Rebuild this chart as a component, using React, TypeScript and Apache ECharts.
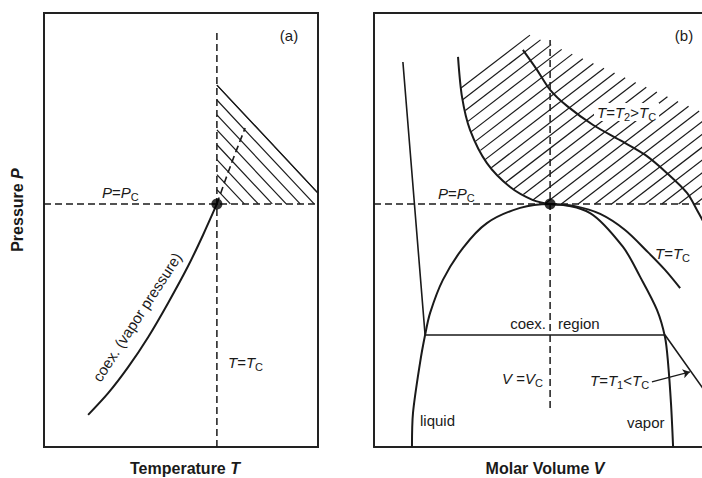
import React, { useEffect, useRef } from "react";
import * as echarts from "echarts";

// ---------- Panel (a): temperature T vs pressure P (arbitrary units 0..100) ----------
const criticalA = [63.1, 56.0];
const coexCurveA = [
  [16.1, 7.4], [23.4, 12.4], [30.7, 18.4], [38.0, 25.3], [45.3, 33.2],
  [52.6, 41.7], [58.0, 48.8], [63.1, 56.0],
];
const coexExtensionA = [[63.1, 56.0], [68.2, 65.0], [73.4, 73.5]];
const isothermTcA = [[63.1, 0], [63.1, 95.4]];
const isobarPcA = [[0, 56.0], [100, 56.0]];
const hatchPolygonA = [[63.1, 83.4], [63.1, 56.0], [100, 56.0], [100, 58.5]];
const hatchEdgeA = [[63.1, 83.4], [100, 58.5]];

// ---------- Panel (b): molar volume V vs pressure P ----------
const volumeRangeB = [0, 97.6]; // visible part of the volume axis
const criticalB = [52.4, 56.0];
const domeB = [
  [11.3, 0], [11.6, 7.8], [13.7, 19.4], [15.2, 25.8], [16.7, 30.9], [20.5, 38.5],
  [26.5, 45.9], [33.6, 51.6], [43.5, 55.1], [52.4, 56.0], [64.3, 53.9], [74.1, 46.1],
  [79.2, 39.2], [84.2, 31.6], [86.6, 25.3], [87.5, 19.4], [88.4, 9.7], [89.0, 0],
];
const isothermTcB = [
  [25.0, 89.9], [26.2, 80.6], [28.6, 73.0], [33.6, 65.4], [40.5, 59.9], [47.3, 56.9],
  [52.4, 56.0], [59.8, 55.5], [67.3, 53.7], [74.7, 50.0], [81.5, 44.9], [86.6, 40.8], [91.1, 36.6],
];
const isothermT2B = [
  [44.3, 91.5], [48.5, 86.9], [52.4, 82.3], [57.4, 78.6], [65.2, 74.2], [73.2, 70.7],
  [80.7, 67.3], [87.2, 63.1], [93.2, 58.5], [96.1, 54.6], [98.5, 51.2],
];
const isothermT1B = [[8.6, 88.7], [15.2, 25.8], [86.6, 25.8], [97.6, 13.8], [100, 11.5]];
const isochoreVcB = [[52.4, 9.0], [52.4, 93.8]];
const isobarPcB = [[0, 56.0], [100, 56.0]];
const hatchPolygonB = [
  [25.9, 82.7], [26.2, 80.6], [28.6, 73.0], [33.6, 65.4], [40.5, 59.9], [47.3, 56.9],
  [52.4, 56.0], [100, 56.0], [100, 76.3], [46.4, 94.9],
];
const arrowB = [[82.7, 15.0], [94.0, 17.3]];

// ---------- styling ----------
const INK = "#1a1a1a";
const FONT = "'Liberation Sans', Arial, Helvetica, sans-serif";

function hatchRenderer(polygon: number[][], dir: number[], spacing: number) {
  return (_params: any, api: any) => {
    const pts = polygon.map((p) => api.coord(p));
    const len = Math.hypot(dir[0], dir[1]);
    const d = [dir[0] / len, dir[1] / len];
    const n = [-d[1], d[0]];
    const proj = pts.map((p: number[]) => n[0] * p[0] + n[1] * p[1]);
    const c0 = proj[0];
    const cmin = Math.min(...proj);
    const cmax = Math.max(...proj);
    const eps = 1e-6;
    const kStart = Math.ceil((cmin - c0) / spacing - 1e-6);
    const kEnd = Math.floor((cmax - c0) / spacing + 1e-6);
    const children: any[] = [];
    for (let k = kStart; k <= kEnd; k++) {
      const c = c0 + k * spacing;
      let tMin = Infinity;
      let tMax = -Infinity;
      let pMin: number[] | null = null;
      let pMax: number[] | null = null;
      for (let i = 0; i < pts.length; i++) {
        const j = (i + 1) % pts.length;
        const a = proj[i] - c;
        const b = proj[j] - c;
        if (Math.abs(a - b) < 1e-9) continue;
        if ((a <= eps && b >= -eps) || (a >= -eps && b <= eps)) {
          let t = a / (a - b);
          t = Math.max(0, Math.min(1, t));
          const p = [pts[i][0] + t * (pts[j][0] - pts[i][0]), pts[i][1] + t * (pts[j][1] - pts[i][1])];
          const s = d[0] * p[0] + d[1] * p[1];
          if (s < tMin) { tMin = s; pMin = p; }
          if (s > tMax) { tMax = s; pMax = p; }
        }
      }
      if (pMin && pMax && tMax - tMin > 0.5) {
        children.push({
          type: "line",
          shape: { x1: pMin[0], y1: pMin[1], x2: pMax[0], y2: pMax[1] },
          style: { stroke: INK, lineWidth: 1.2 },
        });
      }
    }
    return { type: "group", children };
  };
}

const baseTok = { fontFamily: FONT, fontSize: 15, fill: INK, color: INK };
const rich = {
  i: { ...baseTok, fontStyle: "italic", lineHeight: 16 },
  n: { ...baseTok, lineHeight: 16 },
  s: { ...baseTok, fontSize: 11, lineHeight: 11, padding: [9, 0, 0, 0] },
  b: { ...baseTok, fontSize: 16, fontWeight: "bold", lineHeight: 18 },
  bi: { ...baseTok, fontSize: 16, fontWeight: "bold", fontStyle: "italic", lineHeight: 18 },
};

function label(text: string, x: number, y: number, align: string, extra: any = {}, rotation = 0) {
  return {
    type: "text",
    x,
    y,
    rotation,
    z: 100,
    silent: true,
    style: {
      text,
      x: 0,
      y: 0,
      rich,
      fill: INK,
      font: `15px ${FONT}`,
      align,
      verticalAlign: "middle",
      textAlign: align,
      textVerticalAlign: "middle",
      ...extra,
    },
  };
}

function lineSeries(data: number[][], idx: number, opts: any = {}) {
  return {
    type: "line",
    xAxisIndex: idx,
    yAxisIndex: idx,
    data,
    showSymbol: false,
    symbol: "none",
    silent: true,
    clip: false,
    smooth: opts.smooth ?? 0,
    lineStyle: { color: INK, width: opts.width ?? 1.8, type: opts.type ?? "solid" },
    z: opts.z ?? 3,
  };
}

const dash = [7, 4];
const frameAxis = {
  show: true,
  axisLine: { show: true, onZero: false, lineStyle: { color: "#222", width: 2 } },
  axisTick: { show: false },
  axisLabel: { show: false },
  splitLine: { show: false },
};

const option: any = {
  animation: false,
  backgroundColor: "#fff",
  textStyle: { fontFamily: FONT },
  grid: [
    { left: 44, top: 13, width: 274, height: 434, show: true, borderColor: "#222", borderWidth: 2, backgroundColor: "transparent" },
    { left: 374, top: 13, width: 328, height: 434, show: false },
  ],
  xAxis: [
    { gridIndex: 0, type: "value", min: 0, max: 100, show: false },
    { gridIndex: 1, type: "value", min: volumeRangeB[0], max: volumeRangeB[1], position: "bottom", ...frameAxis },
    { gridIndex: 1, type: "value", min: volumeRangeB[0], max: volumeRangeB[1], position: "top", ...frameAxis },
  ],
  yAxis: [
    { gridIndex: 0, type: "value", min: 0, max: 100, show: false },
    { gridIndex: 1, type: "value", min: 0, max: 100, position: "left", ...frameAxis },
  ],
  series: [
    // panel (a)
    {
      type: "custom", xAxisIndex: 0, yAxisIndex: 0, data: [[0, 0]], silent: true, z: 1, clip: false,
      renderItem: hatchRenderer(hatchPolygonA, [101, 108], 10.2),
    },
    lineSeries(hatchEdgeA, 0, { width: 1.2 }),
    lineSeries(isothermTcA, 0, { width: 1.5, type: dash }),
    lineSeries(isobarPcA, 0, { width: 1.5, type: dash }),
    lineSeries(coexExtensionA, 0, { width: 1.6, type: dash, smooth: 0.3 }),
    lineSeries(coexCurveA, 0, { width: 2, smooth: 0.3 }),
    {
      type: "scatter", xAxisIndex: 0, yAxisIndex: 0, data: [criticalA], symbolSize: 11,
      itemStyle: { color: "#000" }, silent: true, z: 5,
    },
    // panel (b)
    {
      type: "custom", xAxisIndex: 1, yAxisIndex: 1, data: [[0, 0]], silent: true, z: 1, clip: false,
      renderItem: hatchRenderer(hatchPolygonB, [69, -53], 10.2),
    },
    lineSeries(isochoreVcB, 1, { width: 1.5, type: dash }),
    lineSeries(isobarPcB, 1, { width: 1.5, type: dash }),
    lineSeries(domeB, 1, { width: 2, smooth: 0.3 }),
    lineSeries(isothermTcB, 1, { width: 2, smooth: 0.3 }),
    lineSeries(isothermT2B, 1, { width: 2, smooth: 0.3 }),
    lineSeries(isothermT1B, 1, { width: 1.6 }),
    {
      type: "lines", coordinateSystem: "cartesian2d", xAxisIndex: 1, yAxisIndex: 1,
      data: [{ coords: arrowB }], symbol: ["none", "arrow"], symbolSize: 7, silent: true,
      lineStyle: { color: INK, width: 1.2, curveness: 0, opacity: 1 }, z: 4,
    },
    {
      type: "scatter", xAxisIndex: 1, yAxisIndex: 1, data: [criticalB], symbolSize: 11,
      itemStyle: { color: "#000" }, silent: true, z: 5,
    },
  ],
  graphic: [
    // panel (a) labels
    label("(a)", 289, 35, "center"),
    label("{i|P}{n|=}{i|P}{s|C}", 102, 192, "left"),
    label("{i|T}{n|=}{i|T}{s|C}", 228, 362, "left"),
    label("coex. (vapor pressure)", 137, 317, "center", {}, (57 * Math.PI) / 180),
    label("{b|Pressure }{bi|P}", 17, 210, "center", {}, Math.PI / 2),
    label("{b|Temperature }{bi|T}", 185, 468, "center"),
    // panel (b) labels
    label("(b)", 684, 35, "center"),
    label("{i|P}{n|=}{i|P}{s|C}", 438, 193, "left"),
    label("{i|T}{n|=}{i|T}{s|2}{n|>}{i|T}{s|C}", 594, 112, "left", { backgroundColor: "#fff", padding: [1, 3, 1, 3] }),
    label("{i|T}{n|=}{i|T}{s|C}", 655, 253, "left"),
    label("coex.", 546, 323, "right"),
    label("region", 558, 323, "left"),
    label("{i|V}{n| =}{i|V}{s|C}", 543, 378, "right"),
    label("{i|T}{n|=}{i|T}{s|1}{n|<}{i|T}{s|C}", 590, 380, "left"),
    label("liquid", 420, 420, "left"),
    label("vapor", 627, 422, "left"),
    label("{b|Molar Volume }{bi|V}", 545, 468, "center"),
  ],
};

export default function App() {
  const ref = useRef<HTMLDivElement>(null);
  useEffect(() => {
    const chart = echarts.init(ref.current!, null, { renderer: "svg" });
    chart.setOption(option);
    return () => chart.dispose();
  }, []);
  return (
    <div
      ref={ref}
      style={{ position: "fixed", left: 0, top: 0, width: 702, height: 478, background: "#fff" }}
    />
  );
}
